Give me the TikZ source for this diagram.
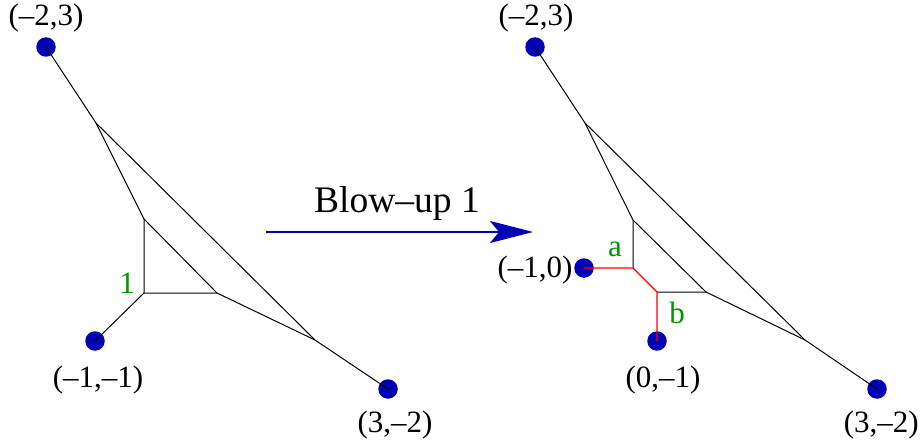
\documentclass[tikz,border=0pt]{standalone}
\usepackage{fontspec}
\setmainfont{Liberation Serif}
\usetikzlibrary{arrows.meta}
\definecolor{dotblue}{RGB}{0,0,180}
\definecolor{lblgreen}{RGB}{0,150,0}
\begin{document}
\begin{tikzpicture}[x=1pt,y=-1pt,
  vdot/.style={circle,fill=dotblue,inner sep=0pt,minimum size=19.5pt},
  edge/.style={black,line width=1pt},
  redge/.style={red,line width=1.3pt},
  lbl/.style={anchor=base,inner sep=0pt,font=\fontsize{31}{35}\selectfont},
  glbl/.style={lbl,text=lblgreen},
  blowarrow/.style={draw=dotblue,line width=2.5pt,-{Stealth[length=43pt,width=22pt,inset=9pt]}}]
\useasboundingbox (0,0) rectangle (922,444);
% left diagram
\coordinate (J1) at (96,123);
\coordinate (T1) at (144,219);
\coordinate (T2) at (144,293);
\coordinate (T3) at (217,293);
\coordinate (K1) at (315,340);
\draw[edge] (J1) -- (T1) -- (T2) -- (T3) -- (K1);
\draw[edge] (T1) -- (T3);
\draw[edge] (J1) -- (K1);
\node[vdot] (A1) at (46,47) {};
\node[vdot] (B1) at (95,341) {};
\node[vdot] (C1) at (388,389) {};
\draw[edge] (A1.center) -- (J1);
\draw[edge] (T2) -- (B1.center);
\draw[edge] (K1) -- (C1.center);
\node[lbl] (lA1) at (46,26) {(–2,3)};
\node[lbl] (lB1) at (98,387) {(–1,–1)};
\node[lbl] (lC1) at (395,432) {(3,–2)};
\node[glbl] (g1) at (127,293) {1};
% arrow
\coordinate (arS) at (266,232);
\coordinate (arE) at (533,232);
\draw[blowarrow] (arS) -- (arE);
\node[lbl,font=\fontsize{37.5}{42}\selectfont] (blow) at (397,212) {Blow–up 1};
% right diagram
\coordinate (J2) at (585,123);
\coordinate (U1) at (633,220);
\coordinate (U2) at (633,268);
\coordinate (U3) at (657,292);
\coordinate (U4) at (706,292);
\coordinate (K2) at (805,340);
\draw[edge] (J2) -- (U1) -- (U2);
\draw[edge] (U1) -- (U4);
\draw[edge] (U3) -- (U4) -- (K2);
\draw[edge] (J2) -- (K2);
\node[vdot] (A2) at (535,47) {};
\node[vdot] (L2) at (584,268) {};
\node[vdot] (M2) at (657,341) {};
\node[vdot] (C2) at (877,389) {};
\draw[edge] (A2.center) -- (J2);
\draw[edge] (K2) -- (C2.center);
\draw[redge] (L2.center) -- (U2) -- (U3) -- (M2.center);
\node[lbl] (lA2) at (536,26) {(–2,3)};
\node[lbl] (lL2) at (535,277) {(–1,0)};
\node[lbl] (lM2) at (663,387) {(0,–1)};
\node[lbl,anchor=base east] (lC2) at (919,432) {(3,–2)};
\node[glbl] (ga) at (615,256) {a};
\node[glbl] (gb) at (677,323) {b};
\end{tikzpicture}
\end{document}
